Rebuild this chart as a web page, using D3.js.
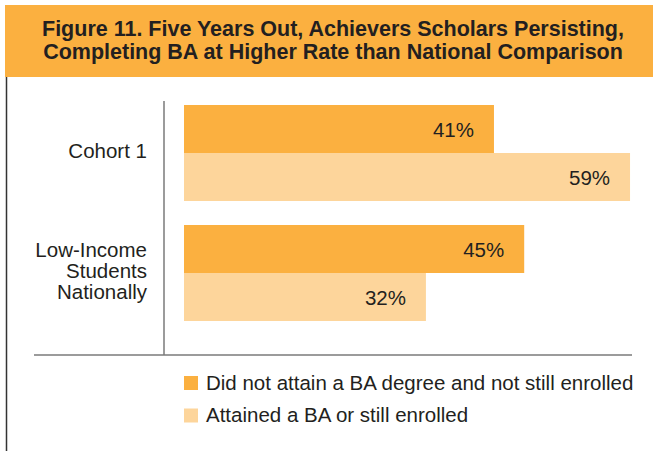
<!DOCTYPE html>
<html>
<head>
<meta charset="utf-8">
<script src="https://cdn.jsdelivr.net/npm/d3@7"></script>
<style>
  html, body { margin: 0; padding: 0; background: #fff; }
  svg { display: block; }
  text { font-family: "Liberation Sans", Arial, Helvetica, sans-serif; fill: #231f20; }
</style>
</head>
<body>
<svg id="chart" width="653" height="451"></svg>
<script>
const titleLines = ["Figure 11. Five Years Out, Achievers Scholars Persisting,",
                    "Completing BA at Higher Rate than National Comparison"];
const categories = ["Cohort 1", "Low-Income Students Nationally"];
const categoryLines = [["Cohort 1"], ["Low-Income", "Students", "Nationally"]];
const seriesNames = ["Did not attain a BA degree and not still enrolled",
                     "Attained a BA or still enrolled"];
const notAttained = [41, 45];
const attained = [59, 32];
const colors = ["#fbb040", "#fdd59b"];

const svg = d3.select("#chart");

// Header
svg.append("rect").attr("x", 5).attr("y", 5).attr("width", 648).attr("height", 72).attr("fill", "#fbb040");
svg.selectAll("text.title").data(titleLines).enter().append("text")
  .attr("class", "title")
  .attr("x", 333).attr("y", (d, i) => 36 + i * 23)
  .attr("text-anchor", "middle")
  .style("font-size", "21.5px").style("font-weight", "bold")
  .text(d => d);

// left border
svg.append("line").attr("x1", 6.5).attr("x2", 6.5).attr("y1", 77).attr("y2", 451)
  .attr("stroke", "#333").attr("stroke-width", 1.5);

const x = d3.scaleLinear().domain([0, 100]).range([184, 940]);
const y = d3.scaleBand().domain(categories).range([105, 321]).paddingInner(0.2).paddingOuter(0);
const ySub = d3.scaleBand().domain([0, 1]).range([0, y.bandwidth()]);

const data = categories.map((c, i) => ({cat: c, vals: [notAttained[i], attained[i]]}));

const groups = svg.selectAll("g.grp").data(data).enter().append("g")
  .attr("transform", d => `translate(0,${y(d.cat)})`);

groups.selectAll("rect").data(d => d.vals).enter().append("rect")
  .attr("x", x(0)).attr("y", (d, i) => ySub(i))
  .attr("width", d => x(d) - x(0)).attr("height", ySub.bandwidth())
  .attr("fill", (d, i) => colors[i]);

groups.selectAll("text.val").data(d => d.vals).enter().append("text")
  .attr("class", "val")
  .attr("x", d => x(d) - 20).attr("y", (d, i) => ySub(i) + ySub.bandwidth() / 2 + 8)
  .attr("text-anchor", "end")
  .style("font-size", "20.5px")
  .text(d => d + "%");

// category labels
categories.forEach((c, i) => {
  const lines = categoryLines[i];
  const cy = y(c) + y.bandwidth() / 2;
  const lh = 21;
  const start = cy - (lines.length - 1) * lh / 2 + 5;
  lines.forEach((l, j) => {
    svg.append("text").attr("x", 147).attr("y", start + j * lh)
      .attr("text-anchor", "end").style("font-size", "20.5px").text(l);
  });
});

// axis lines
svg.append("line").attr("x1", 164).attr("x2", 164).attr("y1", 101).attr("y2", 355)
  .attr("stroke", "#7a7a7a").attr("stroke-width", 1.5);
svg.append("line").attr("x1", 34).attr("x2", 632).attr("y1", 355).attr("y2", 355)
  .attr("stroke", "#7a7a7a").attr("stroke-width", 1.5);

// legend
const leg = svg.selectAll("g.leg").data(seriesNames).enter().append("g")
  .attr("transform", (d, i) => `translate(184,${376 + i * 32.5})`);
leg.append("rect").attr("width", 14).attr("height", 14).attr("fill", (d, i) => colors[i]);
leg.append("text").attr("x", 22).attr("y", 13.5).style("font-size", "20.5px").text(d => d);
</script>
</body>
</html>
